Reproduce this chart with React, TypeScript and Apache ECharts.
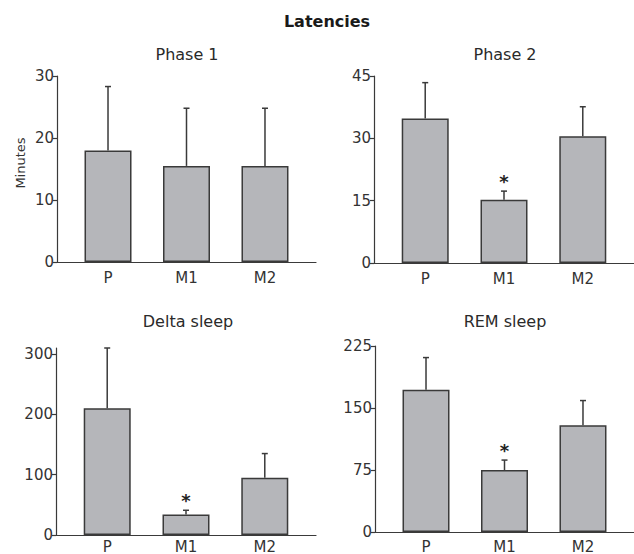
import React, { useEffect, useRef } from "react";
import * as echarts from "echarts";

const categories = ["P", "M1", "M2"];

const phase1Means = [18, 15.5, 15.5];
const phase1Upper = [28.3, 24.8, 24.8];
const phase1Sig = [false, false, false];
const phase1Ticks = [0, 10, 20, 30];

const phase2Means = [34.8, 15.2, 30.5];
const phase2Upper = [43.4, 17.3, 37.6];
const phase2Sig = [false, true, false];
const phase2Ticks = [0, 15, 30, 45];

const deltaMeans = [210, 34, 95];
const deltaUpper = [310, 41, 135];
const deltaSig = [false, true, false];
const deltaTicks = [0, 100, 200, 300];

const remMeans = [172, 75, 129];
const remUpper = [211, 87, 159];
const remSig = [false, true, false];
const remTicks = [0, 75, 150, 225];

const panelTitles = ["Phase 1", "Phase 2", "Delta sleep", "REM sleep"];
const mainTitle = "Latencies";
const yName = "Minutes";

const FONT = "DejaVu Sans";
const DARK = "#3a3a3a";

export default function App() {
  const ref = useRef<HTMLDivElement>(null);

  useEffect(() => {
    if (!ref.current) return;
    const chart = echarts.init(ref.current, null, { renderer: "svg" });

    const panels = [
      { means: phase1Means, upper: phase1Upper, sig: phase1Sig, ticks: phase1Ticks, max: 30, grid: { left: 57, top: 76, width: 259, height: 186 }, labelMargin: 8 },
      { means: phase2Means, upper: phase2Upper, sig: phase2Sig, ticks: phase2Ticks, max: 45, grid: { left: 374, top: 76, width: 260, height: 187 }, labelMargin: 8 },
      { means: deltaMeans, upper: deltaUpper, sig: deltaSig, ticks: deltaTicks, max: 310, grid: { left: 56, top: 348, width: 260, height: 188 }, labelMargin: 4 },
      { means: remMeans, upper: remUpper, sig: remSig, ticks: remTicks, max: 225, grid: { left: 375, top: 346, width: 259, height: 187 }, labelMargin: 7 },
    ];

    const titleCenters = [
      { x: 187, y: 46 },
      { x: 505, y: 46 },
      { x: 188, y: 313 },
      { x: 505, y: 313 },
    ];

    const grids = panels.map((p) => ({ ...p.grid, containLabel: false }));

    const xAxes = panels.map((p, i) => ({
      type: "value",
      gridIndex: i,
      min: 0.35,
      max: 3.65,
      splitLine: { show: false },
      axisTick: { show: false },
      axisLine: { show: true, lineStyle: { color: DARK, width: 1.2 } },
      axisLabel: {
        customValues: [1, 2, 3],
        formatter: (v: number) => categories[Math.round(v) - 1] ?? "",
        fontFamily: FONT,
        fontSize: 15,
        color: "#333",
        margin: p.labelMargin,
      },
    }));

    const yAxes = panels.map((p, i) => ({
      type: "value",
      gridIndex: i,
      min: 0,
      max: p.max,
      splitLine: { show: false },
      axisLine: { show: true, lineStyle: { color: DARK, width: 1.2 } },
      axisTick: { show: true, length: 4, customValues: p.ticks, lineStyle: { color: DARK, width: 1.2 } },
      axisLabel: {
        customValues: p.ticks,
        fontFamily: FONT,
        fontSize: 15,
        color: "#333",
        margin: 3,
      },
    }));

    const series: any[] = [];
    panels.forEach((p, i) => {
      series.push({
        type: "bar",
        xAxisIndex: i,
        yAxisIndex: i,
        barWidth: 47,
        data: p.means.map((m, k) => [k + 1, m]),
        itemStyle: { color: "#b5b6ba", borderColor: DARK, borderWidth: 1.5 },
        silent: true,
      });
      series.push({
        type: "custom",
        xAxisIndex: i,
        yAxisIndex: i,
        clip: false,
        silent: true,
        data: p.means.map((m, k) => [k + 1, m, p.upper[k], p.sig[k] ? 1 : 0]),
        renderItem: (params: any, api: any) => {
          const x = api.value(0);
          const base = api.coord([x, api.value(1)]);
          const top = api.coord([x, api.value(2)]);
          const children: any[] = [
            {
              type: "line",
              shape: { x1: base[0], y1: base[1], x2: top[0], y2: top[1] },
              style: { stroke: DARK, lineWidth: 1.5 },
            },
            {
              type: "line",
              shape: { x1: top[0] - 3, y1: top[1], x2: top[0] + 3, y2: top[1] },
              style: { stroke: DARK, lineWidth: 1.5 },
            },
          ];
          if (api.value(3) === 1) {
            children.push({
              type: "text",
              x: top[0],
              y: top[1] - 1,
              style: {
                text: "*",
                fontFamily: FONT,
                fontSize: 18,
                fontWeight: "bold",
                fill: "#222",
                align: "center",
                verticalAlign: "bottom",
              },
            });
          }
          return { type: "group", children };
        },
      });
    });

    const graphics: any[] = [
      {
        type: "text",
        x: 327,
        y: 13,
        style: {
          text: mainTitle,
          fontFamily: FONT,
          fontSize: 16,
          fontWeight: "bold",
          fill: "#1a1a1a",
          align: "center",
          verticalAlign: "top",
        },
      },
      {
        type: "text",
        x: 20,
        y: 163,
        rotation: Math.PI / 2,
        style: {
          text: yName,
          fontFamily: FONT,
          fontSize: 13,
          fill: "#333",
          align: "center",
          verticalAlign: "middle",
        },
      },
      ...panelTitles.map((t, i) => ({
        type: "text",
        x: titleCenters[i].x,
        y: titleCenters[i].y,
        style: {
          text: t,
          fontFamily: FONT,
          fontSize: 16,
          fill: "#2a2a2a",
          align: "center",
          verticalAlign: "top",
        },
      })),
    ];

    chart.setOption({
      animation: false,
      backgroundColor: "#ffffff",
      grid: grids,
      xAxis: xAxes,
      yAxis: yAxes,
      series,
      graphic: graphics,
    });

    return () => chart.dispose();
  }, []);

  return (
    <div
      ref={ref}
      style={{ position: "absolute", left: 0, top: 0, width: 634, height: 554 }}
    />
  );
}
